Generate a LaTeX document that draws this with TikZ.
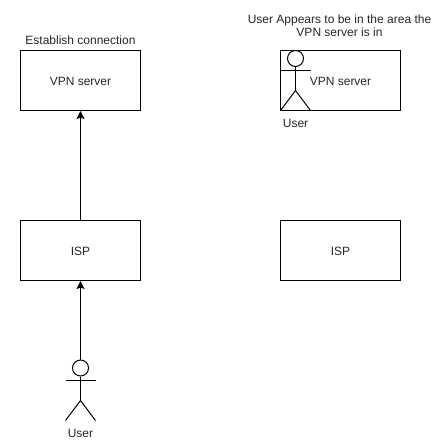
\documentclass[tikz,border=0pt]{standalone}
\usepackage{fontspec}
\setmainfont{Liberation Sans}
\usetikzlibrary{arrows.meta}
\tikzset{
  x=1bp,y=-1bp,
  box/.style={draw=black,line width=1bp,minimum width=120bp,minimum height=60bp,inner sep=0pt,anchor=center,fill=none},
  lbl/.style={inner sep=0pt,align=center,text=black!85,font=\fontsize{12bp}{13bp}\selectfont},
  head/.style={circle,draw=black,line width=1bp,minimum size=16bp,inner sep=0pt,fill=white},
  limb/.style={draw=black,line width=1bp},
  conn/.style={draw=black,line width=1bp,-{Stealth[length=8bp,width=8bp,inset=1.5bp]}}
}
\begin{document}
\begin{tikzpicture}
\useasboundingbox (0,0) rectangle (441,442);
\node[box] (vpnL) at (80.5,80.5) {};
\node[lbl] (vpnLt) at (80.5,81) {VPN server};
\node[box] (ispL) at (80.5,250.5) {};
\node[lbl] (ispLt) at (80.5,251) {ISP};
\node[box] (vpnR) at (340.5,80.5) {};
\node[lbl] (vpnRt) at (340.5,81) {VPN server};
\node[box] (ispR) at (340.5,250.5) {};
\node[lbl] (ispRt) at (340.5,251) {ISP};
\node[lbl] (estab) at (80.5,40.5) {Establish connection};
\node[lbl] (appears) at (339.5,25.5) {User Appears to be in the area the\\VPN server is in};
% left actor
\node[head] (headA) at (80.5,368) {};
\coordinate (hipA) at (80.5,400.5);
\coordinate (armAl) at (65.5,380.5);
\coordinate (armAr) at (95.5,380.5);
\coordinate (footAl) at (65.5,420.5);
\coordinate (footAr) at (95.5,420.5);
\draw[limb] (headA.south) -- (hipA);
\draw[limb] (armAl) -- (armAr);
\draw[limb] (footAl) -- (hipA) -- (footAr);
\node[lbl] (userA) at (80.5,433) {User};
% right actor
\node[head] (headB) at (295.5,58.5) {};
\coordinate (hipB) at (295.5,90.5);
\coordinate (armBl) at (280.5,70.5);
\coordinate (armBr) at (310.5,70.5);
\coordinate (footBl) at (280.5,110.5);
\coordinate (footBr) at (310.5,110.5);
\draw[limb] (headB.south) -- (hipB);
\draw[limb] (armBl) -- (armBr);
\draw[limb] (footBl) -- (hipB) -- (footBr);
\node[lbl] (userB) at (295.5,123.5) {User};
% connectors
\draw[conn] (headA.north) -- (ispL.south);
\draw[conn] (ispL.north) -- (vpnL.south);
\end{tikzpicture}
\end{document}
